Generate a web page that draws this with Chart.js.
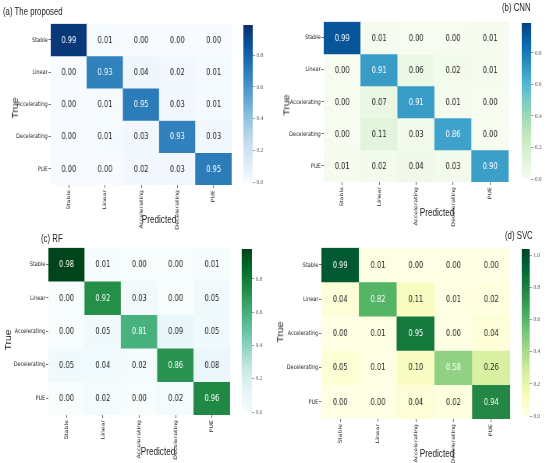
<!DOCTYPE html>
<html>
<head>
<meta charset="utf-8">
<script src="https://cdn.jsdelivr.net/npm/chart.js@4"></script>
<style>
  body { margin: 0; background: #fff; }
  #page { position: relative; width: 550px; height: 463px; overflow: hidden; background: #fff; }
  /* the source figure is squeezed sideways, so everything is laid out wider and squeezed back */
  #wrap { position: absolute; left: 0; top: 0; width: 706px; height: 463px; transform: scaleX(0.78); transform-origin: 0 0; }
  .cv { position: absolute; }
  .txt { position: absolute; white-space: nowrap; line-height: 1; color: #222; font-family: "Liberation Sans", Arial, sans-serif; }
</style>
</head>
<body>
<div id="page"><div id="wrap"></div></div>
<script>
const classes = ["Stable", "Linear", "Accelerating", "Decelerating", "PUE"];

const cmProposed = [
  [0.99, 0.01, 0.00, 0.00, 0.00],
  [0.00, 0.93, 0.04, 0.02, 0.01],
  [0.00, 0.01, 0.95, 0.03, 0.01],
  [0.00, 0.01, 0.03, 0.93, 0.03],
  [0.00, 0.00, 0.02, 0.03, 0.95]
];
const cmCNN = [
  [0.99, 0.01, 0.00, 0.00, 0.01],
  [0.00, 0.91, 0.06, 0.02, 0.01],
  [0.00, 0.07, 0.91, 0.01, 0.00],
  [0.00, 0.11, 0.03, 0.86, 0.00],
  [0.01, 0.02, 0.04, 0.03, 0.90]
];
const cmRF = [
  [0.98, 0.01, 0.00, 0.00, 0.01],
  [0.00, 0.92, 0.03, 0.00, 0.05],
  [0.00, 0.05, 0.81, 0.09, 0.05],
  [0.05, 0.04, 0.02, 0.86, 0.08],
  [0.00, 0.02, 0.00, 0.02, 0.96]
];
const cmSVC = [
  [0.99, 0.01, 0.00, 0.00, 0.00],
  [0.04, 0.82, 0.11, 0.01, 0.02],
  [0.00, 0.01, 0.95, 0.00, 0.04],
  [0.05, 0.01, 0.10, 0.58, 0.26],
  [0.00, 0.00, 0.04, 0.02, 0.94]
];

// how dark the diagonal cells are drawn (0..1 along the colour map)
const diagProposed = [0.97, 0.69, 0.71, 0.69, 0.71];
const diagCNN = [0.93, 0.70, 0.70, 0.68, 0.69];
const diagRF = [1.0, 0.74, 0.60, 0.72, 0.76];
const diagSVC = [0.93, 0.58, 0.80, 0.44, 0.74];

const barTicks = [0, 0.2, 0.4, 0.6, 0.8];
const barTicksSVC = [0, 0.2, 0.4, 0.6, 0.8, 1.0];

// colour maps (matplotlib / colorbrewer)
const BLUES = ["#f7fbff", "#deebf7", "#c6dbef", "#9ecae1", "#6baed6", "#4292c6", "#2171b5", "#08519c", "#08306b"];
const GNBU = ["#f7fcf0", "#e0f3db", "#ccebc5", "#a8ddb5", "#7bccc4", "#4eb3d3", "#2b8cbe", "#0868ac", "#084081"];
const BUGN = ["#f7fcfd", "#e5f5f9", "#ccece6", "#99d8c9", "#66c2a4", "#41ae76", "#238b45", "#006d2c", "#00441b"];
const YLGN = ["#ffffe5", "#f7fcb9", "#d9f0a3", "#addd8e", "#78c679", "#41ab5d", "#238443", "#006837", "#004529"];

const SX = 0.78;

function hexRgb(h) {
  return [parseInt(h.slice(1, 3), 16), parseInt(h.slice(3, 5), 16), parseInt(h.slice(5, 7), 16)];
}

function cmapColour(stops, t) {
  t = Math.max(0, Math.min(1, t));
  const p = t * (stops.length - 1);
  const i = Math.min(Math.floor(p), stops.length - 2);
  const f = p - i;
  const a = hexRgb(stops[i]), b = hexRgb(stops[i + 1]);
  const c = a.map((v, k) => Math.round(v + (b[k] - v) * f));
  return "rgb(" + c.join(",") + ")";
}

// layout in page pixels: heat = [left, top, right, bottom], bar = [left, right]
const panels = [
  { title: "(a) The proposed", cm: cmProposed, diag: diagProposed, cmap: BLUES, vmax: 0.99, cbMax: 0.99, ticks: barTicks,
    heat: [51, 22, 232, 185], bar: [243, 252], titleAt: [3, 12], trueAt: [15, 108], predAt: [159, 219] },
  { title: "(b) CNN", cm: cmCNN, diag: diagCNN, cmap: GNBU, vmax: 0.99, cbMax: 0.99, ticks: barTicks,
    heat: [324, 20, 509, 182], bar: [522, 531], titleAt: [502, 8], trueAt: [286, 105], predAt: [437, 212] },
  { title: "(c) RF", cm: cmRF, diag: diagRF, cmap: BUGN, vmax: 0.98, cbMax: 0.98, ticks: barTicks,
    heat: [48, 246, 230, 415], bar: [242, 252], titleAt: [41, 239], trueAt: [8, 340], predAt: [158, 451] },
  { title: "(d) SVC", cm: cmSVC, diag: diagSVC, cmap: YLGN, vmax: 1.04, cbMax: 1.04, ticks: barTicksSVC,
    heat: [321, 246, 510, 419], bar: [522, 530], titleAt: [505, 236], trueAt: [280, 332], predAt: [437, 453] }
];

Chart.defaults.font.family = '"DejaVu Sans", sans-serif';

const wrap = document.getElementById("wrap");

function addCanvas(left, top, w, h) {
  const cv = document.createElement("canvas");
  cv.className = "cv";
  cv.width = Math.round(w);
  cv.height = Math.round(h);
  cv.style.left = left + "px";
  cv.style.top = top + "px";
  cv.style.width = Math.round(w) + "px";
  cv.style.height = Math.round(h) + "px";
  wrap.appendChild(cv);
  return cv;
}

function addText(str, x, y, size, rotate) {
  const d = document.createElement("div");
  d.className = "txt";
  d.textContent = str;
  d.style.fontSize = size + "px";
  d.style.left = (x / SX) + "px";
  d.style.top = y + "px";
  d.style.transform = "translate(-50%, -50%)" + (rotate ? " rotate(-90deg)" : "");
  wrap.appendChild(d);
}

function addTitle(str, x, y) {
  const d = document.createElement("div");
  d.className = "txt";
  d.textContent = str;
  d.style.fontSize = "10px";
  d.style.left = (x / SX) + "px";
  d.style.top = y + "px";
  d.style.transform = "translate(0, -50%)";
  wrap.appendChild(d);
}

function cellShade(p, r, c) {
  if (r === c) return p.diag[r];
  return p.cm[r][c] / p.vmax;
}

panels.forEach(function (p) {
  const pad = 3, axW = 44, axH = 50;
  const L = p.heat[0] / SX, R = p.heat[2] / SX;
  const T = p.heat[1], B = p.heat[3];

  // heat map
  const cv = addCanvas(L - axW, T - pad, R - L + axW + pad, B - T + pad + axH);

  const cellText = {
    id: "cellText",
    afterDatasetsDraw(chart) {
      const ctx = chart.ctx;
      ctx.save();
      ctx.font = '8.6px "DejaVu Sans", sans-serif';
      ctx.textAlign = "center";
      ctx.textBaseline = "middle";
      chart.data.datasets.forEach(function (ds, r) {
        chart.getDatasetMeta(r).data.forEach(function (bar, c) {
          ctx.fillStyle = r === c ? "#ffffff" : "#262626";
          ctx.fillText(p.cm[r][c].toFixed(2), bar.x, (bar.y + bar.base) / 2 + 0.5);
        });
      });
      ctx.restore();
    }
  };

  new Chart(cv, {
    type: "bar",
    data: {
      labels: classes,
      datasets: p.cm.map(function (row, r) {
        return {
          label: classes[r],
          data: row.map(function () { return 1; }),
          backgroundColor: function (ctx) { return cmapColour(p.cmap, cellShade(p, r, ctx.dataIndex)); },
          borderWidth: 0,
          barPercentage: 1,
          categoryPercentage: 1
        };
      })
    },
    options: {
      responsive: false,
      animation: false,
      layout: { padding: { top: pad, right: pad, left: 0, bottom: 0 } },
      plugins: { legend: { display: false }, tooltip: { enabled: false } },
      scales: {
        x: {
          type: "category",
          stacked: true,
          afterFit: function (s) { s.height = axH; },
          ticks: { minRotation: 90, maxRotation: 90, autoSkip: false, padding: 2, color: "#222", font: { size: 6.2 } },
          grid: { drawOnChartArea: false, offset: false, tickLength: 3, color: "#333", lineWidth: 0.7 },
          border: { display: false }
        },
        y: {
          type: "linear",
          stacked: true,
          reverse: true,
          min: 0,
          max: classes.length,
          afterFit: function (s) { s.width = axW; },
          afterBuildTicks: function (s) { s.ticks = classes.map(function (c, i) { return { value: i + 0.5 }; }); },
          ticks: { autoSkip: false, padding: 1, color: "#222", font: { size: 6.3 },
            callback: function (v, i) { return classes[i]; } },
          grid: { drawOnChartArea: false, tickLength: 3, color: "#333", lineWidth: 0.7 },
          border: { display: false }
        }
      }
    },
    plugins: [cellText]
  });

  // colour bar
  const bL = p.bar[0] / SX, bW = (p.bar[1] - p.bar[0]) / SX, tickW = 30;
  const cb = addCanvas(bL, T - pad, bW + tickW, B - T + 2 * pad);
  new Chart(cb, {
    type: "bar",
    data: {
      labels: [""],
      datasets: [{
        data: [[0, p.cbMax]],
        backgroundColor: function (ctx) {
          const a = ctx.chart.chartArea;
          if (!a) return p.cmap[0];
          const g = ctx.chart.ctx.createLinearGradient(0, a.bottom, 0, a.top);
          p.cmap.forEach(function (c, i) { g.addColorStop(i / (p.cmap.length - 1), c); });
          return g;
        },
        borderWidth: 0,
        barPercentage: 1,
        categoryPercentage: 1
      }]
    },
    options: {
      responsive: false,
      animation: false,
      layout: { padding: { top: pad, bottom: pad, left: 0, right: 0 } },
      plugins: { legend: { display: false }, tooltip: { enabled: false } },
      scales: {
        x: { display: false },
        y: {
          position: "right",
          min: 0,
          max: p.cbMax,
          afterFit: function (s) { s.width = tickW; },
          afterBuildTicks: function (s) { s.ticks = p.ticks.map(function (v) { return { value: v }; }); },
          ticks: { padding: 2, color: "#555", font: { family: '"Liberation Serif", serif', size: 6.5 },
            callback: function (v) { return v.toFixed(1); } },
          grid: { drawOnChartArea: false, tickLength: 3, color: "#777", lineWidth: 0.7 },
          border: { display: false }
        }
      }
    }
  });

  addTitle(p.title, p.titleAt[0], p.titleAt[1]);
  addText("True", p.trueAt[0], p.trueAt[1], 10.5, true);
  addText("Predicted", p.predAt[0], p.predAt[1], 10.5, false);
});
</script>
</body>
</html>
